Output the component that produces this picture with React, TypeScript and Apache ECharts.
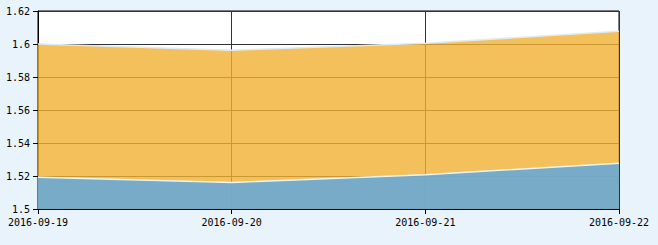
import React, { useEffect, useRef } from "react";
import * as echarts from "echarts";

const categories = ["2016-09-19", "2016-09-20", "2016-09-21", "2016-09-22"];
const upperSeries = [1.6, 1.5962, 1.6004, 1.6078];
const lowerSeries = [1.5193, 1.516, 1.5207, 1.5278];
const yMin = 1.5;
const yMax = 1.62;
const yInterval = 0.02;

export default function App() {
  const ref = useRef<HTMLDivElement>(null);
  useEffect(() => {
    if (!ref.current) return;
    const chart = echarts.init(ref.current, null, { renderer: "svg" });
    const font = { fontFamily: "DejaVu Sans Mono", fontSize: 10, color: "#000" };
    chart.setOption({
      animation: false,
      backgroundColor: "#e8f3fb",
      grid: {
        left: 38,
        right: 39,
        top: 11,
        bottom: 36,
        show: true,
        backgroundColor: "#ffffff",
        borderColor: "#000",
        borderWidth: 1,
      },
      xAxis: {
        type: "category",
        data: categories,
        boundaryGap: false,
        axisLine: { show: true, lineStyle: { color: "#000", width: 1 } },
        axisTick: { show: true, length: 5, lineStyle: { color: "#000" } },
        axisLabel: { ...font, margin: 8, showMinLabel: true, showMaxLabel: true },
        splitLine: { show: true, lineStyle: { color: "#333", width: 1 } },
      },
      yAxis: {
        type: "value",
        min: yMin,
        max: yMax,
        interval: yInterval,
        axisLine: { show: true, lineStyle: { color: "#000", width: 1 } },
        axisTick: { show: true, length: 5, lineStyle: { color: "#000" } },
        axisLabel: { ...font, margin: 8 },
        splitLine: { show: true, lineStyle: { color: "#333", width: 1 } },
      },
      series: [
        {
          type: "line",
          data: upperSeries,
          symbol: "none",
          lineStyle: { color: "#dfeaf2", width: 1.5 },
          areaStyle: { color: "rgba(240,176,50,0.8)", opacity: 1, origin: "start" },
          z: 2,
        },
        {
          type: "line",
          data: lowerSeries,
          symbol: "none",
          lineStyle: { color: "#eef4f0", width: 1.5 },
          areaStyle: { color: "rgba(105,169,212,0.9)", opacity: 1, origin: "start" },
          z: 3,
        },
      ],
    });
    return () => chart.dispose();
  }, []);
  return <div ref={ref} style={{ width: 658, height: 245, position: "fixed", left: 0, top: 0 }} />;
}
